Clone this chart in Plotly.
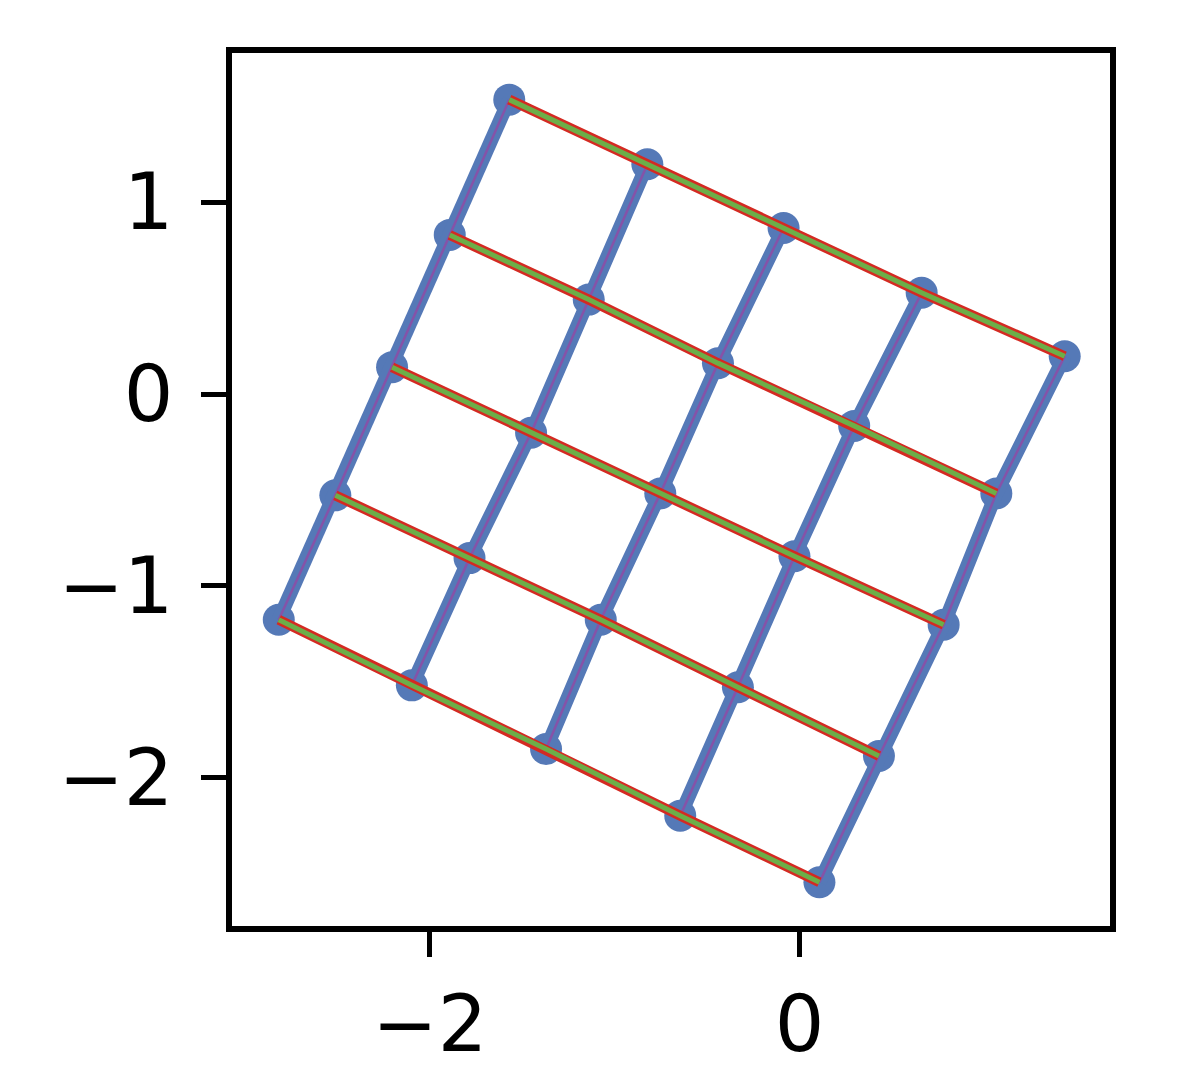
import plotly.graph_objects as go

# Grid node coordinates (rows from top-left to bottom-right)
grid_x = [
    [-1.570, -0.823, -0.086, 0.661, 1.435],
    [-1.892, -1.140, -0.441, 0.296, 1.065],
    [-2.204, -1.452, -0.753, -0.027, 0.780],
    [-2.511, -1.785, -1.075, -0.333, 0.430],
    [-2.817, -2.097, -1.371, -0.645, 0.108],
]
grid_y = [
    [1.534, 1.197, 0.865, 0.528, 0.197],
    [0.829, 0.492, 0.161, -0.166, -0.518],
    [0.140, -0.202, -0.518, -0.845, -1.202],
    [-0.528, -0.855, -1.176, -1.528, -1.886],
    [-1.176, -1.518, -1.850, -2.197, -2.544],
]

x_ticks = [-2, 0]
x_tick_labels = ["\u22122", "0"]
y_ticks = [1, 0, -1, -2]
y_tick_labels = ["1", "0", "\u22121", "\u22122"]

n = len(grid_x)

def col_path():
    xs, ys = [], []
    for j in range(n):
        for i in range(n):
            xs.append(grid_x[i][j]); ys.append(grid_y[i][j])
        xs.append(None); ys.append(None)
    return xs, ys

def row_path():
    xs, ys = [], []
    for i in range(n):
        for j in range(n):
            xs.append(grid_x[i][j]); ys.append(grid_y[i][j])
        xs.append(None); ys.append(None)
    return xs, ys

pts_x = [v for row in grid_x for v in row]
pts_y = [v for row in grid_y for v in row]

cx, cy = col_path()
rx, ry = row_path()

BLUE = "#5579b7"
PURPLE = "#8553a8"
RED = "#d42a22"
GREEN = "#6cae48"

fig = go.Figure()
fig.add_trace(go.Scatter(x=pts_x, y=pts_y, mode="markers",
                         marker=dict(size=32, color=BLUE, line=dict(width=0)),
                         showlegend=False, hoverinfo="skip"))
fig.add_trace(go.Scatter(x=cx, y=cy, mode="lines", line=dict(color=BLUE, width=14),
                         showlegend=False, hoverinfo="skip"))
fig.add_trace(go.Scatter(x=cx, y=cy, mode="lines", line=dict(color=PURPLE, width=2.5),
                         showlegend=False, hoverinfo="skip"))
fig.add_trace(go.Scatter(x=rx, y=ry, mode="lines", line=dict(color=RED, width=10),
                         showlegend=False, hoverinfo="skip"))
fig.add_trace(go.Scatter(x=rx, y=ry, mode="lines", line=dict(color=GREEN, width=5),
                         showlegend=False, hoverinfo="skip"))

axis_common = dict(
    showgrid=False, zeroline=False,
    showline=True, linecolor="black", linewidth=6, mirror=True,
    ticks="outside", ticklen=25, tickwidth=5, tickcolor="black",
    tickfont=dict(family="DejaVu Sans", size=78, color="black"),
)

fig.update_layout(
    width=1196, height=1092,
    margin=dict(l=224, r=94, t=45, b=174),
    paper_bgcolor="white", plot_bgcolor="white",
    xaxis=dict(range=[-3.07, 1.68], tickvals=x_ticks, ticktext=x_tick_labels,
               ticklabelstandoff=0, **axis_common),
    yaxis=dict(range=[-2.772, 1.777], tickvals=y_ticks, ticktext=y_tick_labels,
               ticklabelstandoff=12, **axis_common),
)

fig.write_html("out.html")
